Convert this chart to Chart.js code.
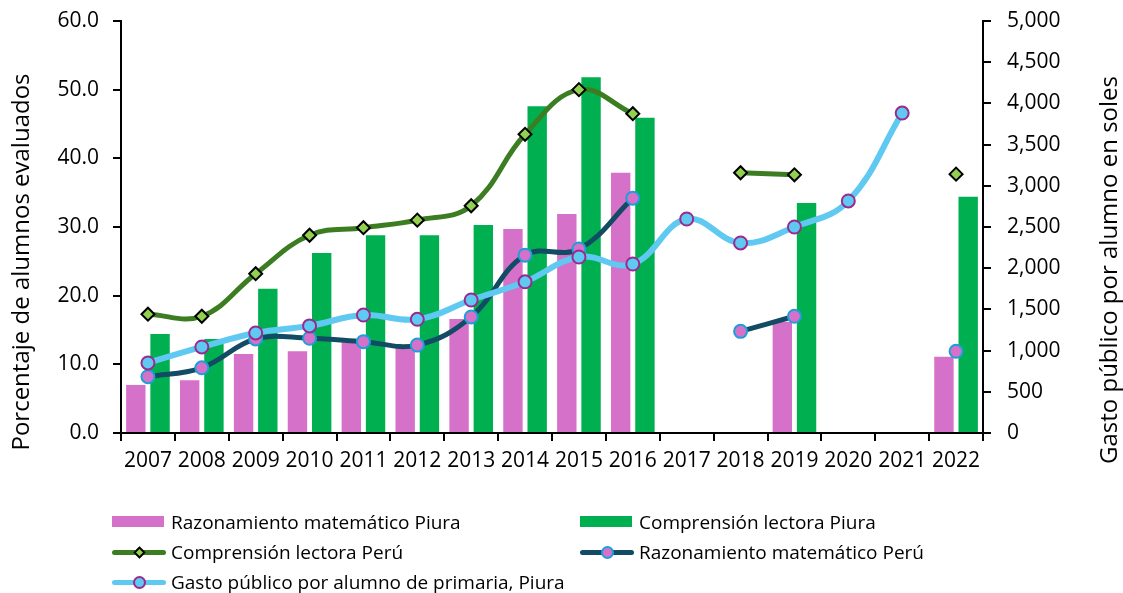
<!DOCTYPE html>
<html>
<head>
<meta charset="utf-8">
<script src="https://cdn.jsdelivr.net/npm/chart.js@4.4.1/dist/chart.umd.min.js"></script>
<style>
  body { margin: 0; background: #fff; font-family: "Open Sans", sans-serif; }
  #wrap { position: relative; width: 1123px; height: 593px; }
  #legend { position: absolute; left: 0; top: 0; width: 1123px; height: 593px; pointer-events: none; }
  .item { position: absolute; display: flex; align-items: center; font-size: 19px; color: #000; white-space: nowrap; height: 24px; }
  .sw { position: relative; width: 54px; height: 24px; margin-right: 5px; }
  .box { position: absolute; left: 0; top: 6px; width: 52px; height: 11px; }
  .ln { position: absolute; left: 0; top: 9.5px; width: 54px; height: 5px; border-radius: 3px; }
  .mk { position: absolute; box-sizing: border-box; }
</style>
</head>
<body>
<div id="wrap">
  <canvas id="myChart" width="1123" height="593"></canvas>
  <div id="legend"></div>
</div>
<script>
// Categorías (años)
const years = ['2007','2008','2009','2010','2011','2012','2013','2014','2015','2016','2017','2018','2019','2020','2021','2022'];

// Porcentaje de alumnos (eje izquierdo)
const matePiura = [7.0, 7.7, 11.5, 11.9, 13.2, 12.6, 16.6, 29.7, 31.9, 37.9, null, null, 16.2, null, null, 11.1];
const lectoraPiura = [14.4, 13.7, 21.0, 26.2, 28.8, 28.8, 30.3, 47.6, 51.8, 45.9, null, null, 33.5, null, null, 34.4];
const lectoraPeru = [17.3, 17.0, 23.2, 28.8, 29.9, 31.0, 33.1, 43.5, 50.0, 46.5, null, 37.9, 37.6, null, null, 37.7];
const matePeru = [8.2, 9.5, 13.7, 13.8, 13.3, 12.8, 16.9, 25.9, 26.8, 34.2, null, 14.8, 17.0, null, null, 11.9];

// Gasto público por alumno (eje derecho, soles)
const gastoPiura = [850, 1044, 1214, 1300, 1432, 1380, 1614, 1835, 2136, 2051, 2597, 2306, 2500, 2816, 3883, null];

const seriesNames = [
  'Razonamiento matemático Piura',
  'Comprensión lectora Piura',
  'Comprensión lectora Perú',
  'Razonamiento matemático Perú',
  'Gasto público por alumno de primaria, Piura'
];
const leftTitle = 'Porcentaje de alumnos evaluados';
const rightTitle = 'Gasto público por alumno en soles';

const pink = '#D671C9';
const green = '#00B050';
const darkGreen = '#3C7D22';
const lightGreen = '#92D050';
const navy = '#124B64';
const cyanBorder = '#1E9FD8';
const lightBlue = '#5FC9F2';
const purple = '#9A2A8E';

// titulos de ejes, leidos de abajo hacia arriba (como en Excel)
const axisTitles = {
    id: 'axisTitles',
    afterDraw(chart) {
        const c = chart.ctx;
        c.save();
        c.fillStyle = '#000';
        c.font = '24px "Open Sans"';
        c.textAlign = 'center';
        c.textBaseline = 'middle';
        [[22, 262, leftTitle], [1110, 270, rightTitle]].forEach(function(t) {
            c.save();
            c.translate(t[0], t[1]);
            c.rotate(-Math.PI / 2);
            c.fillText(t[2], 0, 0);
            c.restore();
        });
        c.restore();
    }
};

const ctx = document.getElementById('myChart');
const chart = new Chart(ctx, {
    type: 'bar',
    data: {
        labels: years,
        datasets: [
            {
                label: seriesNames[0],
                data: matePiura,
                backgroundColor: pink,
                yAxisID: 'y',
                order: 4,
                categoryPercentage: 0.9,
                barPercentage: 0.8
            },
            {
                label: seriesNames[1],
                data: lectoraPiura,
                backgroundColor: green,
                yAxisID: 'y',
                order: 5,
                categoryPercentage: 0.9,
                barPercentage: 0.8
            },
            {
                type: 'line',
                label: seriesNames[2],
                data: lectoraPeru,
                borderColor: darkGreen,
                borderWidth: 5,
                tension: 0.4,
                pointStyle: 'rectRot',
                pointRadius: 6.5,
                pointBackgroundColor: lightGreen,
                pointBorderColor: '#000',
                pointBorderWidth: 2,
                yAxisID: 'y',
                order: 3
            },
            {
                type: 'line',
                label: seriesNames[3],
                data: matePeru,
                borderColor: navy,
                borderWidth: 5,
                tension: 0.4,
                pointStyle: 'circle',
                pointRadius: 6.5,
                pointBackgroundColor: pink,
                pointBorderColor: cyanBorder,
                pointBorderWidth: 2,
                yAxisID: 'y',
                order: 2
            },
            {
                type: 'line',
                label: seriesNames[4],
                data: gastoPiura,
                borderColor: lightBlue,
                borderWidth: 6,
                tension: 0.4,
                pointStyle: 'circle',
                pointRadius: 6.5,
                pointBackgroundColor: lightBlue,
                pointBorderColor: purple,
                pointBorderWidth: 2,
                yAxisID: 'y1',
                order: 1
            }
        ]
    },
    options: {
        responsive: false,
        animation: false,
        layout: { padding: 0 },
        plugins: {
            legend: { display: false },
            tooltip: { enabled: false }
        },
        scales: {
            x: {
                offset: true,
                grid: { display: true, offset: true, drawOnChartArea: false, drawTicks: true, tickLength: 8, color: '#000', lineWidth: 2 },
                border: { display: true, color: '#000', width: 2 },
                ticks: { color: '#000', font: { family: 'Open Sans', size: 21 }, padding: 7, maxRotation: 0, autoSkip: false },
                afterFit: function(scale) { scale.height = 160; }
            },
            y: {
                position: 'left',
                min: 0,
                max: 60,
                grid: { display: true, drawOnChartArea: false, drawTicks: true, tickLength: 8, color: '#000', lineWidth: 2 },
                border: { display: true, color: '#000', width: 2 },
                ticks: {
                    stepSize: 10,
                    color: '#000',
                    padding: 14,
                    font: { family: 'Open Sans', size: 21 },
                    callback: function(v) { return v.toFixed(1); }
                },
                afterFit: function(scale) { scale.width = 121; scale.paddingTop = 21; }
            },
            y1: {
                position: 'right',
                min: 0,
                max: 5000,
                grid: { display: true, drawOnChartArea: false, drawTicks: true, tickLength: 8, color: '#000', lineWidth: 2 },
                border: { display: true, color: '#000', width: 2 },
                ticks: {
                    stepSize: 500,
                    color: '#000',
                    padding: 16,
                    font: { family: 'Open Sans', size: 21 },
                    callback: function(v) { return v.toLocaleString('en-US'); }
                },
                afterFit: function(scale) { scale.width = 140; scale.paddingTop = 21; }
            }
        }
    },
    plugins: [axisTitles]
});

// Leyenda estilo Excel, dos columnas
const legendPos = [
    { left: 112, top: 510 },
    { left: 580, top: 510 },
    { left: 112, top: 540 },
    { left: 580, top: 540 },
    { left: 112, top: 570 }
];
const legend = document.getElementById('legend');
chart.data.datasets.forEach(function(ds, i) {
    const item = document.createElement('div');
    item.className = 'item';
    item.style.left = legendPos[i].left + 'px';
    item.style.top = legendPos[i].top + 'px';
    const sw = document.createElement('div');
    sw.className = 'sw';
    if (ds.type === 'line') {
        const ln = document.createElement('div');
        ln.className = 'ln';
        ln.style.background = ds.borderColor;
        sw.appendChild(ln);
        const mk = document.createElement('div');
        mk.className = 'mk';
        mk.style.background = ds.pointBackgroundColor;
        mk.style.border = '2px solid ' + ds.pointBorderColor;
        if (ds.pointStyle === 'rectRot') {
            mk.style.width = '9px'; mk.style.height = '9px';
            mk.style.left = '22.5px'; mk.style.top = '7.5px';
            mk.style.transform = 'rotate(45deg)';
        } else {
            mk.style.width = '13px'; mk.style.height = '13px';
            mk.style.left = '20.5px'; mk.style.top = '5.5px';
            mk.style.borderRadius = '50%';
        }
        sw.appendChild(mk);
    } else {
        const box = document.createElement('div');
        box.className = 'box';
        box.style.background = ds.backgroundColor;
        sw.appendChild(box);
    }
    item.appendChild(sw);
    const txt = document.createElement('span');
    txt.textContent = ds.label;
    item.appendChild(txt);
    legend.appendChild(item);
});
</script>
</body>
</html>
